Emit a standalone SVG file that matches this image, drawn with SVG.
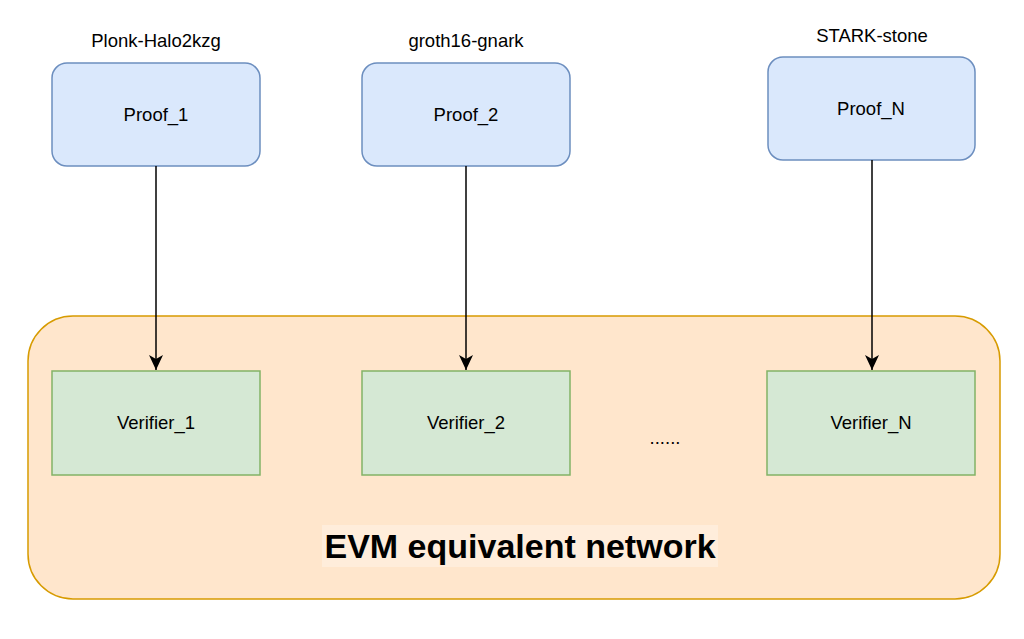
<svg xmlns="http://www.w3.org/2000/svg" width="1024" height="639" viewBox="0 0 1024 639">
<style>
text{font-family:"Liberation Sans",Arial,sans-serif;fill:#000;text-anchor:middle}
.proof{fill:#dae8fc;stroke:#6c8ebf;stroke-width:1.5}
.ver{fill:#d5e8d4;stroke:#82b366;stroke-width:1.5}
.lbl{font-size:18.5px}
.top{font-size:18.5px}
.edge{stroke:#000;stroke-width:1.5;fill:none;marker-end:url(#arr)}
</style>
<defs>
<marker id="arr" markerWidth="14" markerHeight="16" refX="7" refY="15" orient="0" markerUnits="userSpaceOnUse">
<path d="M0,0 L7,15 L14,0 L7,4 Z" fill="#000"/>
</marker>
</defs>
<rect width="1024" height="639" fill="#fff"/>
<g id="network">
<rect x="28" y="316" width="972" height="283" rx="45" ry="45" fill="#ffe6cc" stroke="#d79b00" stroke-width="1.5"/>
<rect x="322" y="525" width="396" height="42" fill="#fff4ea" opacity="0.5"/>
<text x="520" y="558" style="font-size:34px;font-weight:bold">EVM equivalent network</text>
</g>
<g id="proof1">
<text class="top" x="156" y="47">Plonk-Halo2kzg</text>
<rect class="proof" x="52" y="63" width="208" height="103" rx="15"/>
<text class="lbl" x="156" y="121">Proof_1</text>
</g>
<g id="proof2">
<text class="top" x="466" y="47">groth16-gnark</text>
<rect class="proof" x="362" y="63" width="208" height="103" rx="15"/>
<text class="lbl" x="466" y="121">Proof_2</text>
</g>
<g id="proofN">
<text class="top" x="872" y="42">STARK-stone</text>
<rect class="proof" x="768" y="57" width="207" height="103" rx="15"/>
<text class="lbl" x="871" y="115">Proof_N</text>
</g>
<g id="verifier1">
<rect class="ver" x="52" y="371" width="208" height="104"/>
<text class="lbl" x="156" y="429">Verifier_1</text>
</g>
<g id="verifier2">
<rect class="ver" x="362" y="371" width="208" height="104"/>
<text class="lbl" x="466" y="429">Verifier_2</text>
</g>
<g id="dots">
<text class="lbl" x="665" y="444">......</text>
</g>
<g id="verifierN">
<rect class="ver" x="767" y="371" width="208" height="104"/>
<text class="lbl" x="871" y="429">Verifier_N</text>
</g>
<g id="connectors">
<line class="edge" x1="156" y1="166" x2="156" y2="370"/>
<line class="edge" x1="466" y1="166" x2="466" y2="370"/>
<line class="edge" x1="872" y1="160" x2="872" y2="370"/>
</g>
</svg>
